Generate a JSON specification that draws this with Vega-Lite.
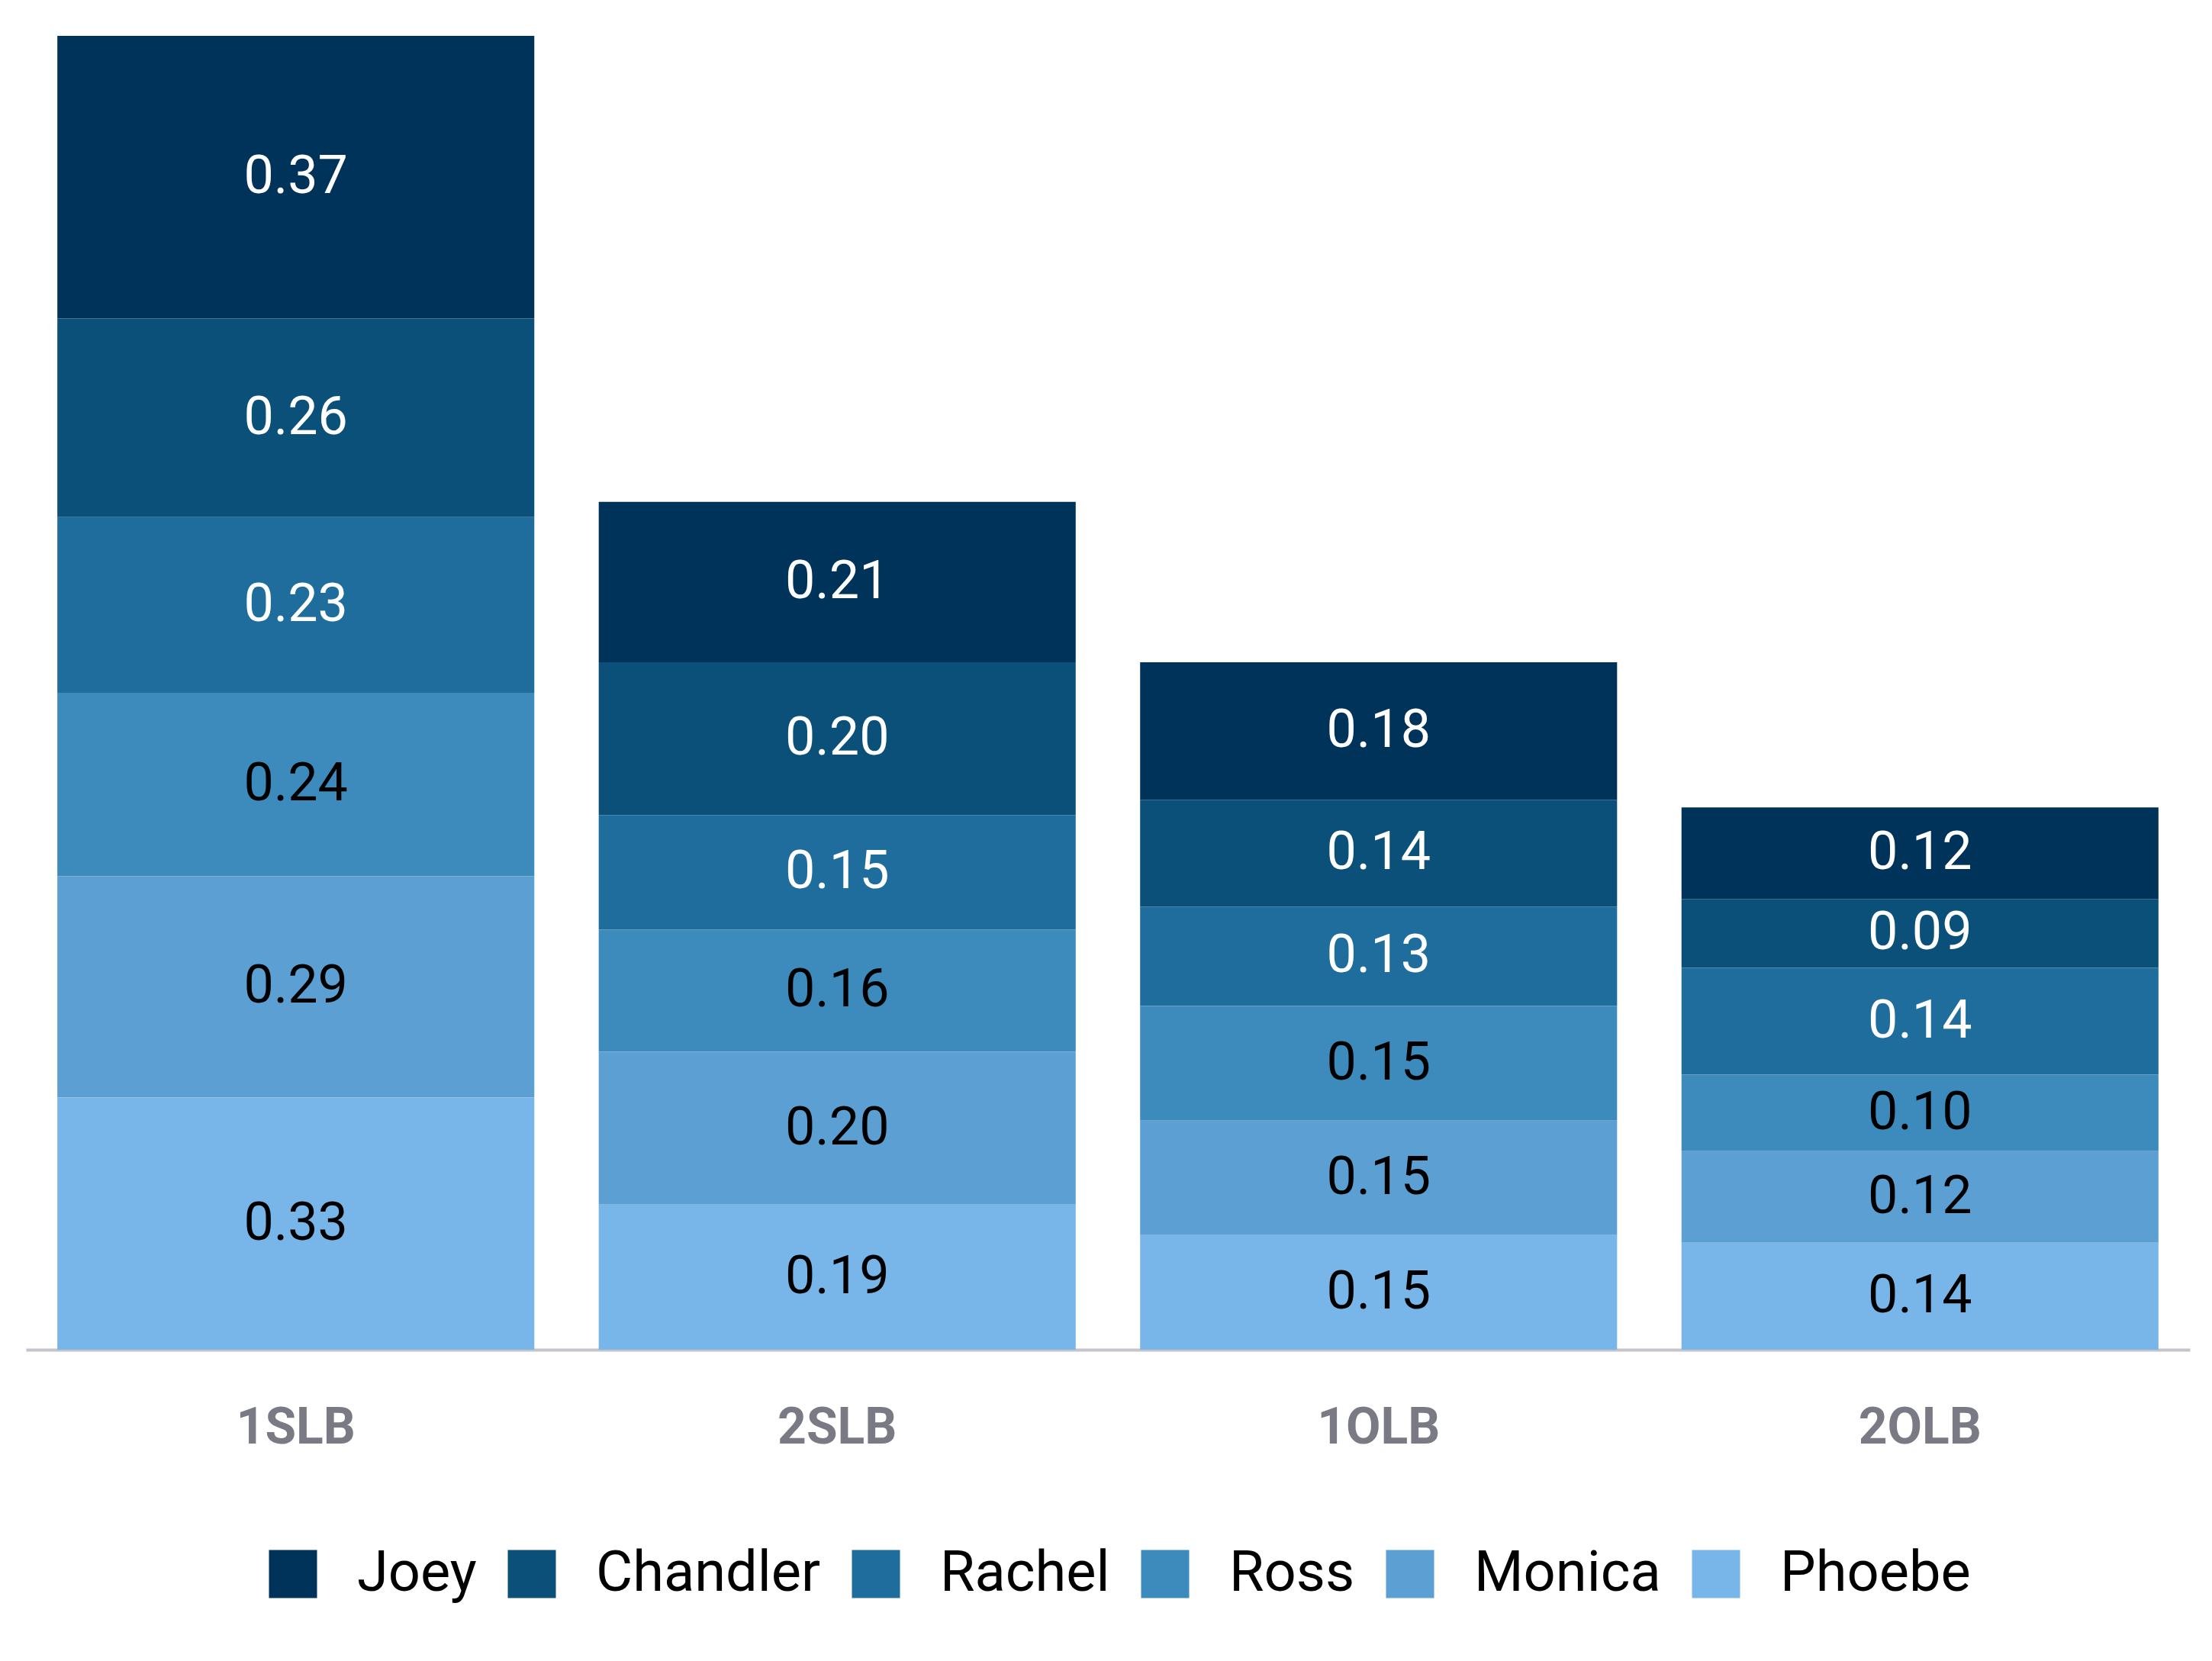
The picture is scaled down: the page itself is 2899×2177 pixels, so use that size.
{
  "$schema": "https://vega.github.io/schema/vega-lite/v6.json",
  "width": 2836,
  "height": 1722,
  "autosize": {"type": "none"},
  "padding": {"left": 34, "top": 47, "right": 29, "bottom": 408},
  "background": "white",
  "data": {
    "values": [
      {"pos": "1SLB", "player": "Joey", "value": 0.37},
      {"pos": "1SLB", "player": "Chandler", "value": 0.26},
      {"pos": "1SLB", "player": "Rachel", "value": 0.23},
      {"pos": "1SLB", "player": "Ross", "value": 0.24},
      {"pos": "1SLB", "player": "Monica", "value": 0.29},
      {"pos": "1SLB", "player": "Phoebe", "value": 0.33},
      {"pos": "2SLB", "player": "Joey", "value": 0.21},
      {"pos": "2SLB", "player": "Chandler", "value": 0.20},
      {"pos": "2SLB", "player": "Rachel", "value": 0.15},
      {"pos": "2SLB", "player": "Ross", "value": 0.16},
      {"pos": "2SLB", "player": "Monica", "value": 0.20},
      {"pos": "2SLB", "player": "Phoebe", "value": 0.19},
      {"pos": "1OLB", "player": "Joey", "value": 0.18},
      {"pos": "1OLB", "player": "Chandler", "value": 0.14},
      {"pos": "1OLB", "player": "Rachel", "value": 0.13},
      {"pos": "1OLB", "player": "Ross", "value": 0.15},
      {"pos": "1OLB", "player": "Monica", "value": 0.15},
      {"pos": "1OLB", "player": "Phoebe", "value": 0.15},
      {"pos": "2OLB", "player": "Joey", "value": 0.12},
      {"pos": "2OLB", "player": "Chandler", "value": 0.09},
      {"pos": "2OLB", "player": "Rachel", "value": 0.14},
      {"pos": "2OLB", "player": "Ross", "value": 0.10},
      {"pos": "2OLB", "player": "Monica", "value": 0.12},
      {"pos": "2OLB", "player": "Phoebe", "value": 0.14}
    ]
  },
  "transform": [
    {"calculate": "indexof(['Phoebe','Monica','Ross','Rachel','Chandler','Joey'], datum.player)", "as": "idx"},
    {"stack": "value", "groupby": ["pos"], "sort": [{"field": "idx", "order": "ascending"}], "as": ["v0", "v1"]},
    {"calculate": "(datum.v0 + datum.v1) / 2", "as": "mid"}
  ],
  "encoding": {
    "x": {
      "field": "pos",
      "type": "nominal",
      "sort": ["1SLB", "2SLB", "1OLB", "2OLB"],
      "scale": {"paddingInner": 0.119, "paddingOuter": 0.058},
      "axis": {
        "title": null,
        "labelAngle": 0,
        "ticks": false,
        "labelFont": "Roboto",
        "labelFontSize": 66,
        "labelFontWeight": "bold",
        "labelColor": "#7a7a85",
        "labelPadding": 70,
        "labelBaseline": "top",
        "domainColor": "#c4c4cc",
        "domainWidth": 4
      }
    }
  },
  "layer": [
    {
      "mark": {"type": "bar"},
      "encoding": {
        "y": {
          "field": "v1",
          "type": "quantitative",
          "scale": {"domain": [0, 1.72], "nice": false},
          "axis": null
        },
        "y2": {"field": "v0"},
        "color": {
          "field": "player",
          "type": "nominal",
          "sort": ["Joey", "Chandler", "Rachel", "Ross", "Monica", "Phoebe"],
          "scale": {
            "domain": ["Joey", "Chandler", "Rachel", "Ross", "Monica", "Phoebe"],
            "range": ["#003359", "#0a5079", "#1f6d9c", "#3d8abd", "#5b9fd3", "#78b5e8"]
          },
          "legend": {
            "title": null,
            "orient": "none",
            "legendX": 313,
            "legendY": 1979,
            "direction": "horizontal",
            "symbolType": "square",
            "symbolSize": 3969,
            "symbolStrokeWidth": 0,
            "labelFont": "Roboto",
            "labelFontSize": 74,
            "labelColor": "black",
            "labelLimit": 0,
            "labelOffset": 47,
            "columnPadding": 35
          }
        }
      }
    },
    {
      "mark": {"type": "text", "font": "Roboto", "fontSize": 70, "baseline": "middle", "align": "center"},
      "encoding": {
        "y": {"field": "mid", "type": "quantitative", "scale": {"domain": [0, 1.72], "nice": false}},
        "text": {"field": "value", "type": "quantitative", "format": ".2f"},
        "color": {
          "condition": {"test": "indexof(['Joey','Chandler','Rachel'], datum.player) >= 0", "value": "white"},
          "value": "black"
        }
      }
    }
  ],
  "config": {"view": {"stroke": null}}
}
